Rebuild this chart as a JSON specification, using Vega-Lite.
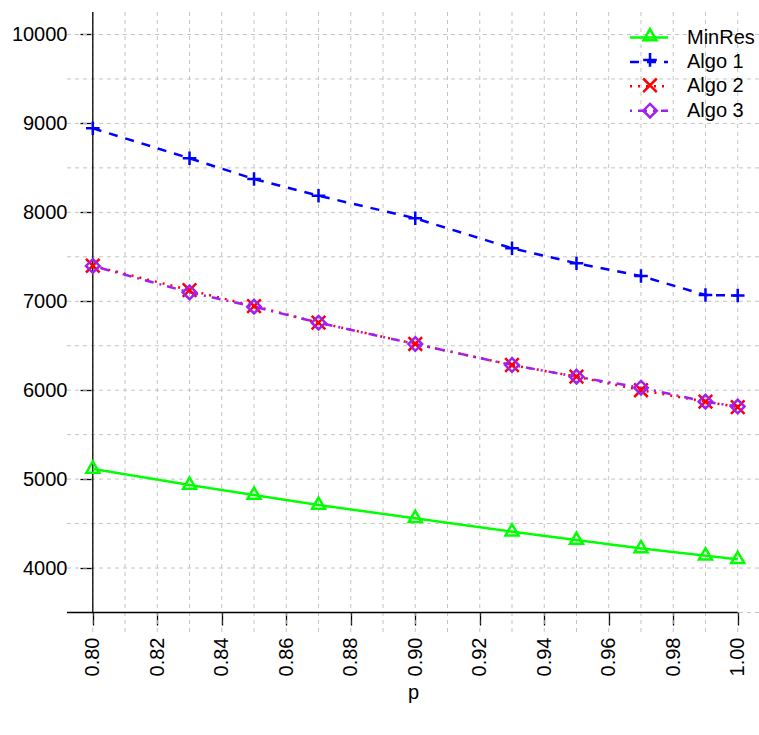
{
  "$schema": "https://vega.github.io/schema/vega-lite/v6.json",
  "width": 692,
  "height": 623,
  "autosize": {"type": "none"},
  "padding": {"left": 67, "top": 12, "right": 0, "bottom": 100},
  "background": "white",
  "config": {
    "view": {"stroke": null},
    "font": "Liberation Sans",
    "axis": {"grid": false, "domain": false, "labelColor": "black", "tickColor": "black", "labelFontSize": 20, "titleFontSize": 20, "titleFontWeight": "normal", "titleColor": "black", "labelFont": "Liberation Sans", "titleFont": "Liberation Sans", "tickWidth": 1.3}
  },
  "datasets": {
    "series": [
      {"series": "MinRes", "p": 0.80, "value": 5115},
      {"series": "MinRes", "p": 0.83, "value": 4934},
      {"series": "MinRes", "p": 0.85, "value": 4821},
      {"series": "MinRes", "p": 0.87, "value": 4709},
      {"series": "MinRes", "p": 0.90, "value": 4559},
      {"series": "MinRes", "p": 0.93, "value": 4409},
      {"series": "MinRes", "p": 0.95, "value": 4315},
      {"series": "MinRes", "p": 0.97, "value": 4221},
      {"series": "MinRes", "p": 0.99, "value": 4139},
      {"series": "MinRes", "p": 1.00, "value": 4098},
      {"series": "Algo 1", "p": 0.80, "value": 8945},
      {"series": "Algo 1", "p": 0.83, "value": 8608},
      {"series": "Algo 1", "p": 0.85, "value": 8375},
      {"series": "Algo 1", "p": 0.87, "value": 8187},
      {"series": "Algo 1", "p": 0.90, "value": 7933},
      {"series": "Algo 1", "p": 0.93, "value": 7596},
      {"series": "Algo 1", "p": 0.95, "value": 7427},
      {"series": "Algo 1", "p": 0.97, "value": 7284},
      {"series": "Algo 1", "p": 0.99, "value": 7070},
      {"series": "Algo 1", "p": 1.00, "value": 7065},
      {"series": "Algo 2", "p": 0.80, "value": 7400},
      {"series": "Algo 2", "p": 0.83, "value": 7125},
      {"series": "Algo 2", "p": 0.85, "value": 6945},
      {"series": "Algo 2", "p": 0.87, "value": 6760},
      {"series": "Algo 2", "p": 0.90, "value": 6520},
      {"series": "Algo 2", "p": 0.93, "value": 6283},
      {"series": "Algo 2", "p": 0.95, "value": 6152},
      {"series": "Algo 2", "p": 0.97, "value": 6000},
      {"series": "Algo 2", "p": 0.99, "value": 5871},
      {"series": "Algo 2", "p": 1.00, "value": 5810},
      {"series": "Algo 3", "p": 0.80, "value": 7397},
      {"series": "Algo 3", "p": 0.83, "value": 7100},
      {"series": "Algo 3", "p": 0.85, "value": 6939},
      {"series": "Algo 3", "p": 0.87, "value": 6759},
      {"series": "Algo 3", "p": 0.90, "value": 6519},
      {"series": "Algo 3", "p": 0.93, "value": 6283},
      {"series": "Algo 3", "p": 0.95, "value": 6152},
      {"series": "Algo 3", "p": 0.97, "value": 6028},
      {"series": "Algo 3", "p": 0.99, "value": 5871},
      {"series": "Algo 3", "p": 1.00, "value": 5816}
    ],
    "gridx": [
      {"p": 0.80}, {"p": 0.81}, {"p": 0.82}, {"p": 0.83}, {"p": 0.84}, {"p": 0.85}, {"p": 0.86},
      {"p": 0.87}, {"p": 0.88}, {"p": 0.89}, {"p": 0.90}, {"p": 0.91}, {"p": 0.92}, {"p": 0.93},
      {"p": 0.94}, {"p": 0.95}, {"p": 0.96}, {"p": 0.97}, {"p": 0.98}, {"p": 0.99}, {"p": 1.00}
    ],
    "gridy": [
      {"value": 3500}, {"value": 4000}, {"value": 4500}, {"value": 5000}, {"value": 5500},
      {"value": 6000}, {"value": 6500}, {"value": 7000}, {"value": 7500}, {"value": 8000},
      {"value": 8500}, {"value": 9000}, {"value": 9500}, {"value": 10000}
    ]
  },
  "layer": [
    {
      "data": {"name": "gridx"},
      "mark": {"type": "rule", "stroke": "#c4c4c4", "strokeWidth": 1, "strokeDash": [4, 4]},
      "encoding": {
        "x": {"field": "p", "type": "quantitative", "scale": {"domain": [0.792, 1.0066], "nice": false, "zero": false},
          "axis": {"title": "p", "values": [0.80, 0.82, 0.84, 0.86, 0.88, 0.90, 0.92, 0.94, 0.96, 0.98, 1.00], "format": ".2f", "labelAngle": -90, "offset": -23, "tickSize": 13, "labelPadding": 12, "titlePadding": 7}}
      }
    },
    {
      "data": {"name": "gridy"},
      "mark": {"type": "rule", "stroke": "#c4c4c4", "strokeWidth": 1, "strokeDash": [4, 4]},
      "encoding": {
        "y": {"field": "value", "type": "quantitative", "scale": {"domain": [3247, 10253], "nice": false, "zero": false},
          "axis": {"title": null, "values": [4000, 5000, 6000, 7000, 8000, 9000, 10000], "format": "d", "offset": -25.7, "tickSize": 12.7, "labelPadding": 13}}
      }
    },
    {
      "data": {"values": [{}]},
      "mark": {"type": "rule", "stroke": "black", "strokeWidth": 1.3},
      "encoding": {
        "x": {"datum": 0.792, "type": "quantitative"},
        "x2": {"datum": 1.0},
        "y": {"datum": 3500, "type": "quantitative"}
      }
    },
    {
      "data": {"values": [{}]},
      "mark": {"type": "rule", "stroke": "black", "strokeWidth": 1.3},
      "encoding": {
        "x": {"datum": 0.80, "type": "quantitative"},
        "y": {"datum": 3500, "type": "quantitative"},
        "y2": {"datum": 10253}
      }
    },
    {
      "data": {"name": "series"},
      "mark": {"type": "line", "strokeWidth": 2.5},
      "encoding": {
        "x": {"field": "p", "type": "quantitative"},
        "y": {"field": "value", "type": "quantitative"},
        "color": {"field": "series", "type": "nominal",
          "scale": {"domain": ["MinRes", "Algo 1", "Algo 2", "Algo 3"], "range": ["#00ff00", "#0000ff", "#ff0000", "#a020f0"]},
          "legend": {"title": null, "orient": "none", "legendX": 571, "legendY": 14.5, "symbolType": "M-2,0H2", "symbolSize": 361, "symbolStrokeWidth": 2.5, "labelFontSize": 20, "labelFont": "Liberation Sans", "labelColor": "black", "labelOffset": 27, "rowPadding": 3.4, "padding": 0}},
        "strokeDash": {"field": "series", "type": "nominal",
          "scale": {"domain": ["MinRes", "Algo 1", "Algo 2", "Algo 3"], "range": [[1, 0], [9, 8], [2, 6], [2, 6, 9, 6]]}}
      }
    },
    {
      "data": {"name": "series"},
      "mark": {"type": "point", "filled": false, "strokeWidth": 2.5, "opacity": 1},
      "encoding": {
        "x": {"field": "p", "type": "quantitative"},
        "y": {"field": "value", "type": "quantitative"},
        "stroke": {"field": "series", "type": "nominal", "sort": null,
          "scale": {"range": ["#00ff00", "#0000ff", "#ff0000", "#a020f0"]}},
        "shape": {"field": "series", "type": "nominal", "sort": null,
          "scale": {"range": ["M0,-1.1L0.95,0.55L-0.95,0.55Z", "M-1,0H1M0,-1V1", "M-1,-1L1,1M-1,1L1,-1", "M0,-1L1,0L0,1L-1,0Z"]},
          "legend": {"title": null, "orient": "none", "legendX": 573, "legendY": 14.5, "symbolSize": 185, "symbolStrokeWidth": 2.5, "symbolOpacity": 1, "labelFontSize": 20, "labelFont": "Liberation Sans", "labelExpr": "''", "labelOffset": 18, "rowPadding": 1.4, "padding": 0}},
        "size": {"value": 185}
      }
    }
  ]
}
